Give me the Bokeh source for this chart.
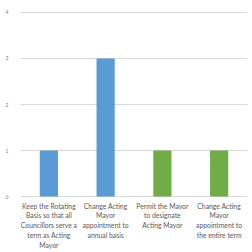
from bokeh.plotting import figure
from bokeh.models import ColumnDataSource, FixedTicker
from bokeh.embed import file_html
from bokeh.resources import INLINE

categories = [
    "Keep the Rotating\nBasis so that all\nCouncillors serve a\nterm as Acting\nMayor",
    "Change Acting\nMayor\nappointment to\nannual basis",
    "Permit the Mayor\nto designate\nActing Mayor",
    "Change Acting\nMayor\nappointment to\nthe entire term",
]
values = [1, 3, 1, 1]
colors = ["#5B9BD5", "#5B9BD5", "#70AD47", "#70AD47"]
y_ticks = [0, 1, 2, 3, 4]

source = ColumnDataSource(dict(cat=categories, val=values, color=colors))

p = figure(
    x_range=categories, y_range=(-0.043, 4.13),
    width=252, height=252,
    output_backend="svg", toolbar_location=None,
    min_border_left=20, min_border_right=5, min_border_top=6, min_border_bottom=54,
)

p.vbar(x="cat", top="val", width=0.32, color="color", source=source, line_color=None)

p.outline_line_color = None
p.xgrid.grid_line_color = None
p.ygrid.grid_line_color = "#d9d9d9"
p.ygrid.grid_line_width = 1

p.yaxis.ticker = FixedTicker(ticks=y_ticks)
p.yaxis.axis_line_color = None
p.yaxis.major_tick_line_color = None
p.yaxis.minor_tick_line_color = None
p.yaxis.major_label_text_font_size = "5px"
p.yaxis.major_label_text_color = "#7f7f7f"
p.yaxis.major_label_text_font = "Lato"
p.yaxis.major_label_standoff = 6

p.xaxis.axis_line_color = None
p.xaxis.major_tick_line_color = None
p.xaxis.minor_tick_line_color = None
p.xaxis.major_label_text_font_size = "6.8px"
p.xaxis.major_label_text_color = "#595959"
p.xaxis.major_label_text_font = "Lato"
p.xaxis.major_label_standoff = -3
p.xaxis.major_label_text_line_height = 1.22

p.background_fill_color = "white"
p.border_fill_color = "white"

open("out.html", "w").write(file_html(p, INLINE))
